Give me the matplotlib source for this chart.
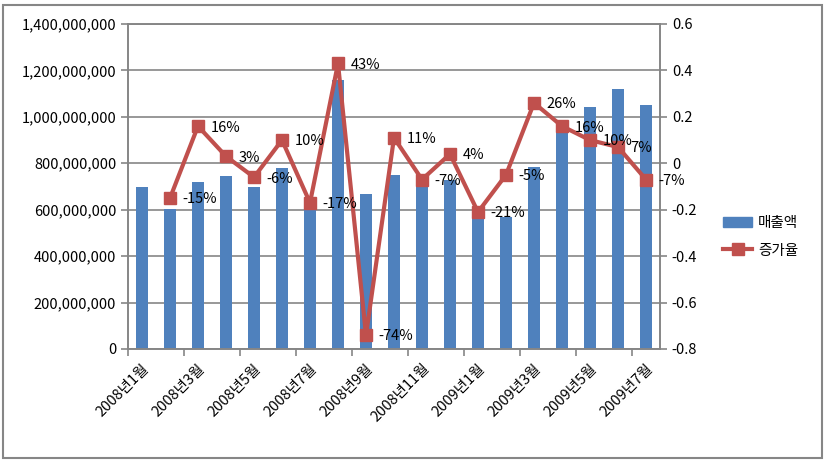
import numpy as np
import matplotlib
matplotlib.use('Agg')
import matplotlib.pyplot as plt
from matplotlib.ticker import FuncFormatter, FixedLocator
from matplotlib.patches import Rectangle
from matplotlib.lines import Line2D

plt.rcParams['font.family'] = ['Noto Sans CJK KR', 'DejaVu Sans']

# monthly data
months = ['2008년1월', '2008년2월', '2008년3월', '2008년4월', '2008년5월', '2008년6월',
          '2008년7월', '2008년8월', '2008년9월', '2008년10월', '2008년11월', '2008년12월',
          '2009년1월', '2009년2월', '2009년3월', '2009년4월', '2009년5월', '2009년6월',
          '2009년7월']
sales = [700e6, 605e6, 720e6, 745e6, 700e6, 778e6, 608e6, 1158e6, 666e6, 750e6,
         705e6, 730e6, 585e6, 570e6, 785e6, 958e6, 1041e6, 1122e6, 1050e6]
growth = [np.nan, -0.15, 0.16, 0.03, -0.06, 0.10, -0.17, 0.43, -0.74, 0.11,
          -0.07, 0.04, -0.21, -0.05, 0.26, 0.16, 0.10, 0.07, -0.07]
growth_labels = ['', '-15%', '16%', '3%', '-6%', '10%', '-17%', '43%', '-74%', '11%',
                 '-7%', '4%', '-21%', '-5%', '26%', '16%', '10%', '7%', '-7%']

bar_color = '#4F81BD'
line_color = '#C0504D'
grid_color = '#868686'

fig = plt.figure(figsize=(8.3, 4.63), dpi=100)
ax = fig.add_axes([128/830, 1 - 349/463, (660-128)/830, (349-24)/463])
x = np.arange(len(months))

ax.bar(x, sales, width=0.43, color=bar_color, zorder=2)
ax.set_xlim(-0.5, len(months) - 0.5)
ax.set_ylim(0, 1.4e9)
ax.set_yticks(np.arange(0, 1.41e9, 2e8))
ax.yaxis.set_major_formatter(FuncFormatter(lambda v, p: f'{int(v):,}'))
ax.grid(axis='y', color=grid_color, linewidth=1.2, zorder=0)
ax.set_axisbelow(True)

# category labels every 2 months, tick marks on the boundaries
ax.set_xticks(x[::2])
ax.set_xticklabels(months[::2], rotation=45, ha='right', rotation_mode='anchor')
ax.tick_params(axis='x', which='major', length=0, pad=9)
ax.xaxis.set_minor_locator(FixedLocator(np.arange(-0.5, len(months) - 1, 2)))
ax.tick_params(axis='x', which='minor', length=5, color=grid_color, width=1.2)
ax.tick_params(axis='y', length=5, color=grid_color, width=1.2)
ax.tick_params(labelsize=10.5)

for s in ['left', 'bottom', 'right', 'top']:
    ax.spines[s].set_color(grid_color)
    ax.spines[s].set_linewidth(1.2)

ax2 = ax.twinx()
ax2.plot(x, growth, color=line_color, linewidth=3, marker='s', markersize=9, zorder=3)
ax2.set_ylim(-0.8, 0.6)
ax2.set_yticks([-0.8, -0.6, -0.4, -0.2, 0, 0.2, 0.4, 0.6])
ax2.set_yticklabels(['-0.8', '-0.6', '-0.4', '-0.2', '0', '0.2', '0.4', '0.6'])
ax2.tick_params(axis='y', length=5, color=grid_color, width=1.2, labelsize=10.5)
for s in ['left', 'bottom', 'right', 'top']:
    ax2.spines[s].set_color(grid_color)
    ax2.spines[s].set_linewidth(1.2)

for xi, g, lab in zip(x, growth, growth_labels):
    if lab:
        ax2.annotate(lab, (xi, g), xytext=(9, -1), textcoords='offset points',
                     ha='left', va='center', fontsize=10.5, color='black')

handles = [Rectangle((0, 0), 1, 1, color=bar_color),
           Line2D([0], [0], color=line_color, linewidth=3, marker='s', markersize=9)]
fig.legend(handles, ['매출액', '증가율'], loc='center left',
           bbox_to_anchor=(710/830, 1 - 237/463), frameon=False, fontsize=10.5,
           handlelength=2.0, handletextpad=0.4, labelspacing=0.9)

fig.patches.append(Rectangle((3/830, 5/463), 819/830, 453/463, transform=fig.transFigure,
                             fill=False, edgecolor=grid_color, linewidth=1.5))

fig.savefig('out.png', dpi=100)
